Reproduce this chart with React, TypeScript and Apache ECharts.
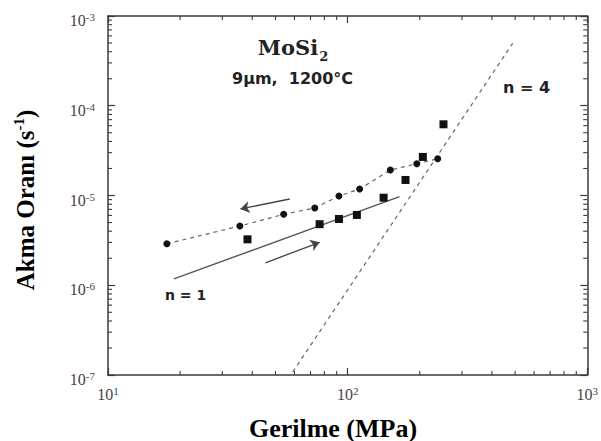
import React, { useEffect, useRef } from "react";
import * as echarts from "echarts";

const X_MIN = 10;
const X_MAX = 1000;
const Y_MIN = 1e-7;
const Y_MAX = 1e-3;

// circles (dashed line)
const circleStress = [17.6, 35.5, 54.1, 72.9, 92.0, 112.2, 150.7, 194.4, 237.7];
const circleRate = [2.9e-6, 4.57e-6, 6.17e-6, 7.26e-6, 9.87e-6, 1.18e-5, 1.92e-5, 2.26e-5, 2.57e-5];
// squares
const squareStress = [38.2, 76.4, 92.0, 109.3, 141.3, 174.4, 206.0, 251.2];
const squareRate = [3.25e-6, 4.79e-6, 5.47e-6, 6.07e-6, 9.45e-6, 1.49e-5, 2.69e-5, 6.21e-5];
// reference slopes
const n1Stress = [18.84, 164.7];
const n1Rate = [1.18e-6, 9.7e-6];
const n4Stress = [59.0, 488.6];
const n4Rate = [1.08e-7, 4.97e-4];
// arrows [from, to]
const arrowUpper = [[57.3, 9.14e-6], [35.7, 7.08e-6]];
const arrowLower = [[45.4, 1.78e-6], [76.4, 3.01e-6]];

const minorX = [20, 30, 40, 50, 60, 70, 80, 90, 200, 300, 400, 500, 600, 700, 800, 900];
const minorYMantissa = [2, 3, 4, 5, 6, 7, 8, 9];
const minorYExp = [-7, -6, -5, -4];

const SERIF = "'Liberation Serif', 'Times New Roman', serif";
const SANS = "'DejaVu Sans', sans-serif";
const INK = "#444";
const AXIS = "#3a3a3a";

export default function App() {
  const ref = useRef<HTMLDivElement>(null);
  useEffect(() => {
    document.body.style.margin = "0";
    if (!ref.current) return;
    const chart = echarts.init(ref.current, null, { renderer: "svg" });

    const minorData: number[][] = [];
    minorX.forEach((v) => minorData.push([v, Y_MIN, 0]));
    minorYExp.forEach((e) =>
      minorYMantissa.forEach((m) => minorData.push([X_MIN, m * Math.pow(10, e), 1]))
    );

    const expLabel = (v: number) => {
      const e = Math.round(Math.log10(v));
      return `{b|10}{s|${e}}`;
    };
    const labelRich = {
      b: { fontSize: 16, fontFamily: SERIF, color: INK },
      s: { fontSize: 11, fontFamily: SERIF, color: INK, padding: [0, 0, 7, 0] },
    };
    const axisCommon = {
      type: "log" as const,
      logBase: 10,
      axisLine: { show: true, lineStyle: { color: AXIS, width: 1.5 } },
      axisTick: { show: true, inside: true, length: 7, lineStyle: { color: AXIS, width: 1.2 } },
      splitLine: { show: false },
      minorTick: { show: false },
    };

    const tick = (x1: number, y1: number, x2: number, y2: number) => ({
      type: "line",
      shape: { x1, y1, x2, y2 },
      style: { stroke: AXIS, lineWidth: 1.1 },
    });

    chart.setOption({
      animation: false,
      backgroundColor: "#ffffff",
      grid: { left: 108, right: 13, top: 16, bottom: 66 },
      xAxis: [
        {
          ...axisCommon,
          min: X_MIN,
          max: X_MAX,
          position: "bottom",
          axisLabel: { formatter: expLabel, rich: labelRich, margin: 10 },
        },
        {
          ...axisCommon,
          min: X_MIN,
          max: X_MAX,
          position: "top",
          axisLabel: { show: false },
        },
      ],
      yAxis: [
        {
          ...axisCommon,
          min: Y_MIN,
          max: Y_MAX,
          position: "left",
          axisLabel: { formatter: expLabel, rich: labelRich, margin: 13, padding: [9, 0, 0, 0] },
        },
        {
          ...axisCommon,
          min: Y_MIN,
          max: Y_MAX,
          position: "right",
          axisLabel: { show: false },
        },
      ],
      series: [
        {
          type: "custom",
          clip: false,
          silent: true,
          z: 5,
          encode: { x: 0, y: 1 },
          data: minorData,
          renderItem: (params: any, api: any) => {
            const kind = api.value(2);
            if (kind === 0) {
              const v = api.value(0);
              const b = api.coord([v, Y_MIN]);
              const t = api.coord([v, Y_MAX]);
              return {
                type: "group",
                children: [tick(b[0], b[1], b[0], b[1] - 4), tick(t[0], t[1], t[0], t[1] + 4)],
              };
            }
            const v = api.value(1);
            const l = api.coord([X_MIN, v]);
            const r = api.coord([X_MAX, v]);
            return {
              type: "group",
              children: [tick(l[0], l[1], l[0] + 4, l[1]), tick(r[0], r[1], r[0] - 4, r[1])],
            };
          },
        },
        {
          type: "line",
          data: n4Stress.map((x, i) => [x, n4Rate[i]]),
          showSymbol: false,
          symbol: "none",
          z: 2,
          lineStyle: { color: "#666", width: 1.2, type: [4, 4] },
        },
        {
          type: "line",
          data: n1Stress.map((x, i) => [x, n1Rate[i]]),
          showSymbol: false,
          symbol: "none",
          z: 2,
          lineStyle: { color: "#555", width: 1.4, type: "solid" },
        },
        {
          type: "line",
          data: circleStress.map((x, i) => [x, circleRate[i]]),
          symbol: "circle",
          symbolSize: 7,
          z: 3,
          lineStyle: { color: "#666", width: 1.2, type: [4, 4] },
          itemStyle: { color: "#111", borderWidth: 0, opacity: 1 },
        },
        {
          type: "scatter",
          data: squareStress.map((x, i) => [x, squareRate[i]]),
          symbol: "rect",
          symbolSize: 8,
          z: 4,
          itemStyle: { color: "#111", opacity: 1 },
        },
        {
          type: "lines",
          coordinateSystem: "cartesian2d",
          z: 3,
          symbol: ["none", "arrow"],
          symbolSize: 9,
          lineStyle: { color: "#444", width: 1.3, opacity: 1 },
          data: [{ coords: arrowUpper }, { coords: arrowLower }],
        },
      ],
      graphic: [
        {
          type: "text",
          x: 293,
          y: 47,
          style: {
            text: "{m|MoSi}{sub|2}",
            align: "center",
            verticalAlign: "middle",
            rich: {
              m: { fontSize: 21, fontWeight: "bold", fontFamily: "'DejaVu Serif', serif", fill: "#222" },
              sub: { fontSize: 13, fontWeight: "bold", fontFamily: "'DejaVu Serif', serif", fill: "#222", padding: [18, 0, 0, 1] },
            },
          },
        },
        {
          type: "text",
          x: 232,
          y: 78,
          style: {
            text: "9\u03bcm,  1200\u00b0C",
            align: "left",
            verticalAlign: "middle",
            fontSize: 16,
            fontWeight: "bold",
            fontFamily: SANS,
            fill: "#222",
          },
        },
        {
          type: "text",
          x: 503,
          y: 87,
          style: {
            text: "n = 4",
            align: "left",
            verticalAlign: "middle",
            fontSize: 16,
            fontWeight: "bold",
            fontFamily: SANS,
            fill: "#222",
          },
        },
        {
          type: "text",
          x: 165,
          y: 295,
          style: {
            text: "n = 1",
            align: "left",
            verticalAlign: "middle",
            fontSize: 14,
            fontWeight: "bold",
            fontFamily: SANS,
            fill: "#222",
          },
        },
        {
          type: "text",
          x: 333,
          y: 428,
          style: {
            text: "Gerilme (MPa)",
            align: "center",
            verticalAlign: "middle",
            fontSize: 26,
            fontWeight: "bold",
            fontFamily: SERIF,
            fill: "#000",
          },
        },
        {
          type: "text",
          x: 25,
          y: 200,
          rotation: Math.PI / 2,
          style: {
            text: "{t|Akma Oran\u0131 (s}{s|-1}{t|)}",
            align: "center",
            verticalAlign: "middle",
            rich: {
              t: { fontSize: 25, fontWeight: "bold", fontFamily: SERIF, fill: "#000" },
              s: { fontSize: 15, fontWeight: "bold", fontFamily: SERIF, fill: "#000", padding: [0, 0, 12, 0] },
            },
          },
        },
      ],
    });
    return () => chart.dispose();
  }, []);
  return (
    <div
      ref={ref}
      style={{ position: "absolute", left: 0, top: 0, width: 601, height: 441 }}
    />
  );
}
